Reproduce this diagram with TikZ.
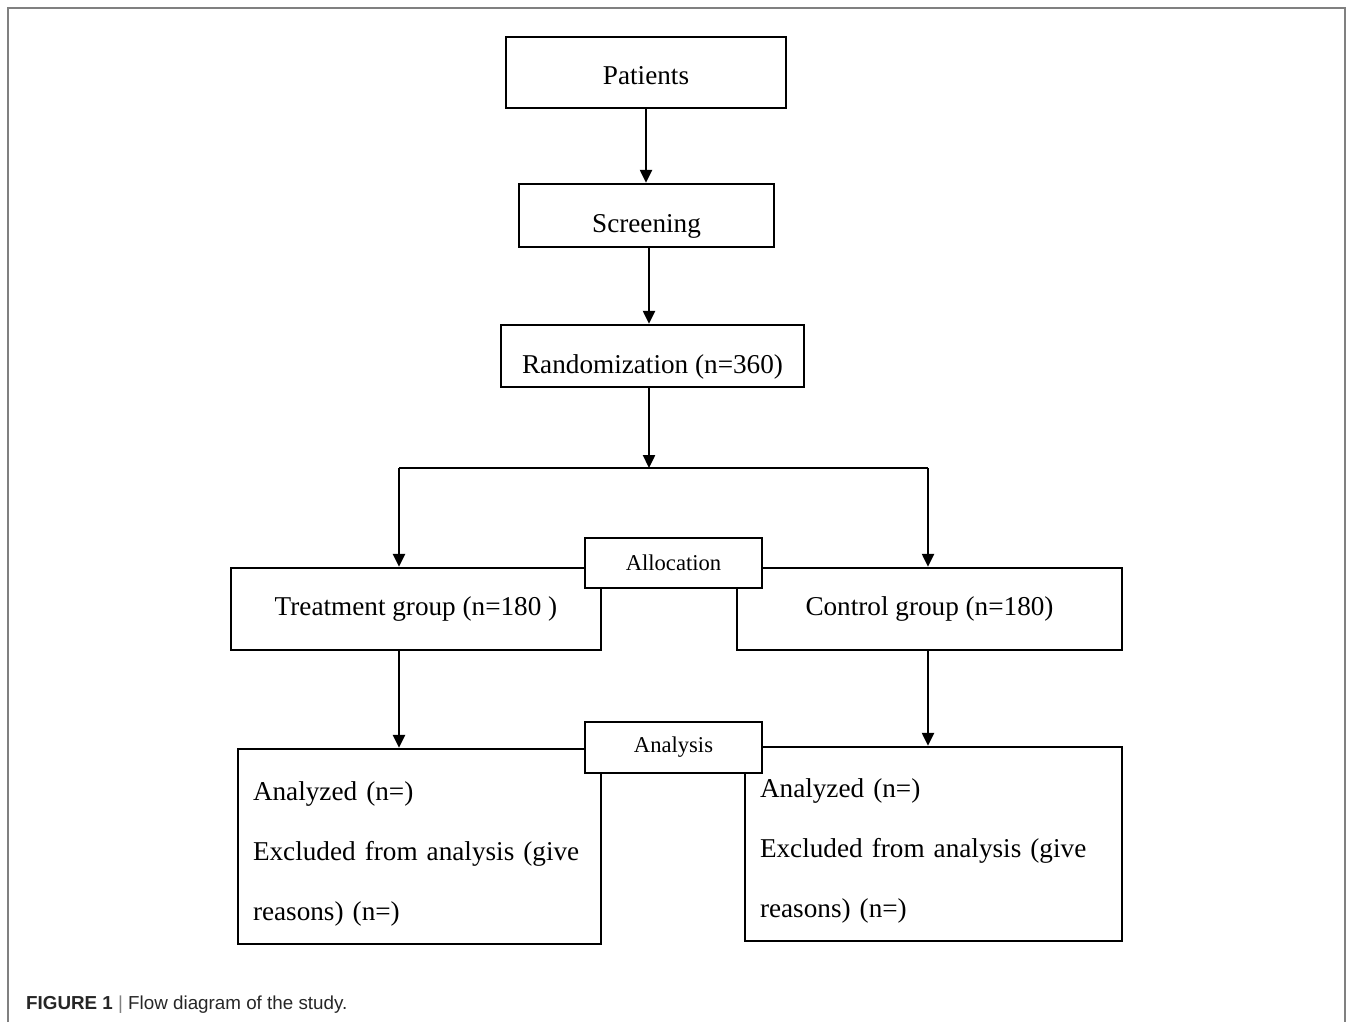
\documentclass[tikz,border=0pt]{standalone}
\usepackage{fontspec}
\setmainfont{Liberation Serif}
\setsansfont{Liberation Sans}
\usetikzlibrary{arrows.meta,positioning}

\begin{document}
\begin{tikzpicture}[x=0.5pt,y=-0.5pt,>={Triangle[length=6.5pt,width=6pt]},line width=1.2pt]
  \tikzset{
    box/.style={draw,line width=1.2pt,fill=white,inner sep=0pt,
      font=\fontsize{13.6}{16}\selectfont},
    tag/.style={box,font=\fontsize{11.3}{13}\selectfont},
    resultbox/.style={box,align=left,inner xsep=7.5pt,
      font=\fontsize{13.6}{30}\selectfont},
  }
  \useasboundingbox (0,0) rectangle (1347,1022);
  % outer frame
  \draw[black!50,line width=1pt] (8,1022) -- (8,8) -- (1345,8) -- (1345,1022);
%%
  % Node: patients
  \node[box,minimum width=140pt,minimum height=35.5pt,text height=23.5pt,text depth=12pt] (patients) at (646,72.5) {Patients};
  % Node: screening
  \node[box,minimum width=127.5pt,minimum height=31.5pt,text height=24pt,text depth=7.5pt] (screening) at (646.5,215.5) {Screening};
  % Node: random
  \node[box,minimum width=151.5pt,minimum height=31pt,text height=24pt,text depth=7pt] (random) at (652.5,356) {Randomization (n=360)};
  % Node: treat
  \node[box,minimum width=185pt,minimum height=41pt] (treat) at (416,609) {Treatment group (n=180 )};
  % Node: ctrl
  \node[box,minimum width=192.5pt,minimum height=41pt] (ctrl) at (929.5,609) {Control group (n=180)};
  % Node: anaL
  \node[resultbox,text width=166.5pt,minimum height=97.5pt] (anaL) at (419.5,846.5)
    {\rule{0pt}{16.5pt}Analyzed (n=)\\Excluded from analysis (give\\reasons) (n=)};
  % Node: anaR
  \node[resultbox,text width=173.5pt,minimum height=97pt] (anaR) at (933.5,844)
    {\rule{0pt}{16.5pt}Analyzed (n=)\\Excluded from analysis (give\\reasons) (n=)};
  % Node: allocation
  \node[tag,minimum width=88.5pt,minimum height=25pt] (allocation) at (673.5,563) {Allocation};
  % Node: analysis
  \node[tag,minimum width=88.5pt,minimum height=25.5pt] (analysis) at (673.5,747.5) {Analysis};
%%
  \coordinate (split) at (649,468);
  \coordinate (splitL) at (399,468);
  \coordinate (splitR) at (928,468);
  % Edge: patients -- screening
  \draw[->] (patients.south) -- (patients.south |- screening.north);
  % Edge: screening -- random
  \draw[->] (screening.south -| split) -- (split |- random.north);
  % Edge: random -- split
  \draw[->] (random.south -| split) -- (split);
  \draw (splitL) -- (splitR);
  % Edge: split -- treat, ctrl
  \draw[->] (splitL) -- (splitL |- treat.north);
  \draw[->] (splitR) -- (splitR |- ctrl.north);
  % Edge: treat -- anaL, ctrl -- anaR
  \draw[->] (treat.south -| splitL) -- (splitL |- anaL.north);
  \draw[->] (ctrl.south -| splitR) -- (splitR |- anaR.north);
%%
  % caption
  \node[anchor=base west,inner sep=0pt,text=black!85,
    font=\sffamily\fontsize{9.4}{11}\selectfont] (caption) at (25,1009)
    {\textbf{FIGURE 1} {\color{black!50}|} Flow diagram of the study.};
\end{tikzpicture}
\end{document}
